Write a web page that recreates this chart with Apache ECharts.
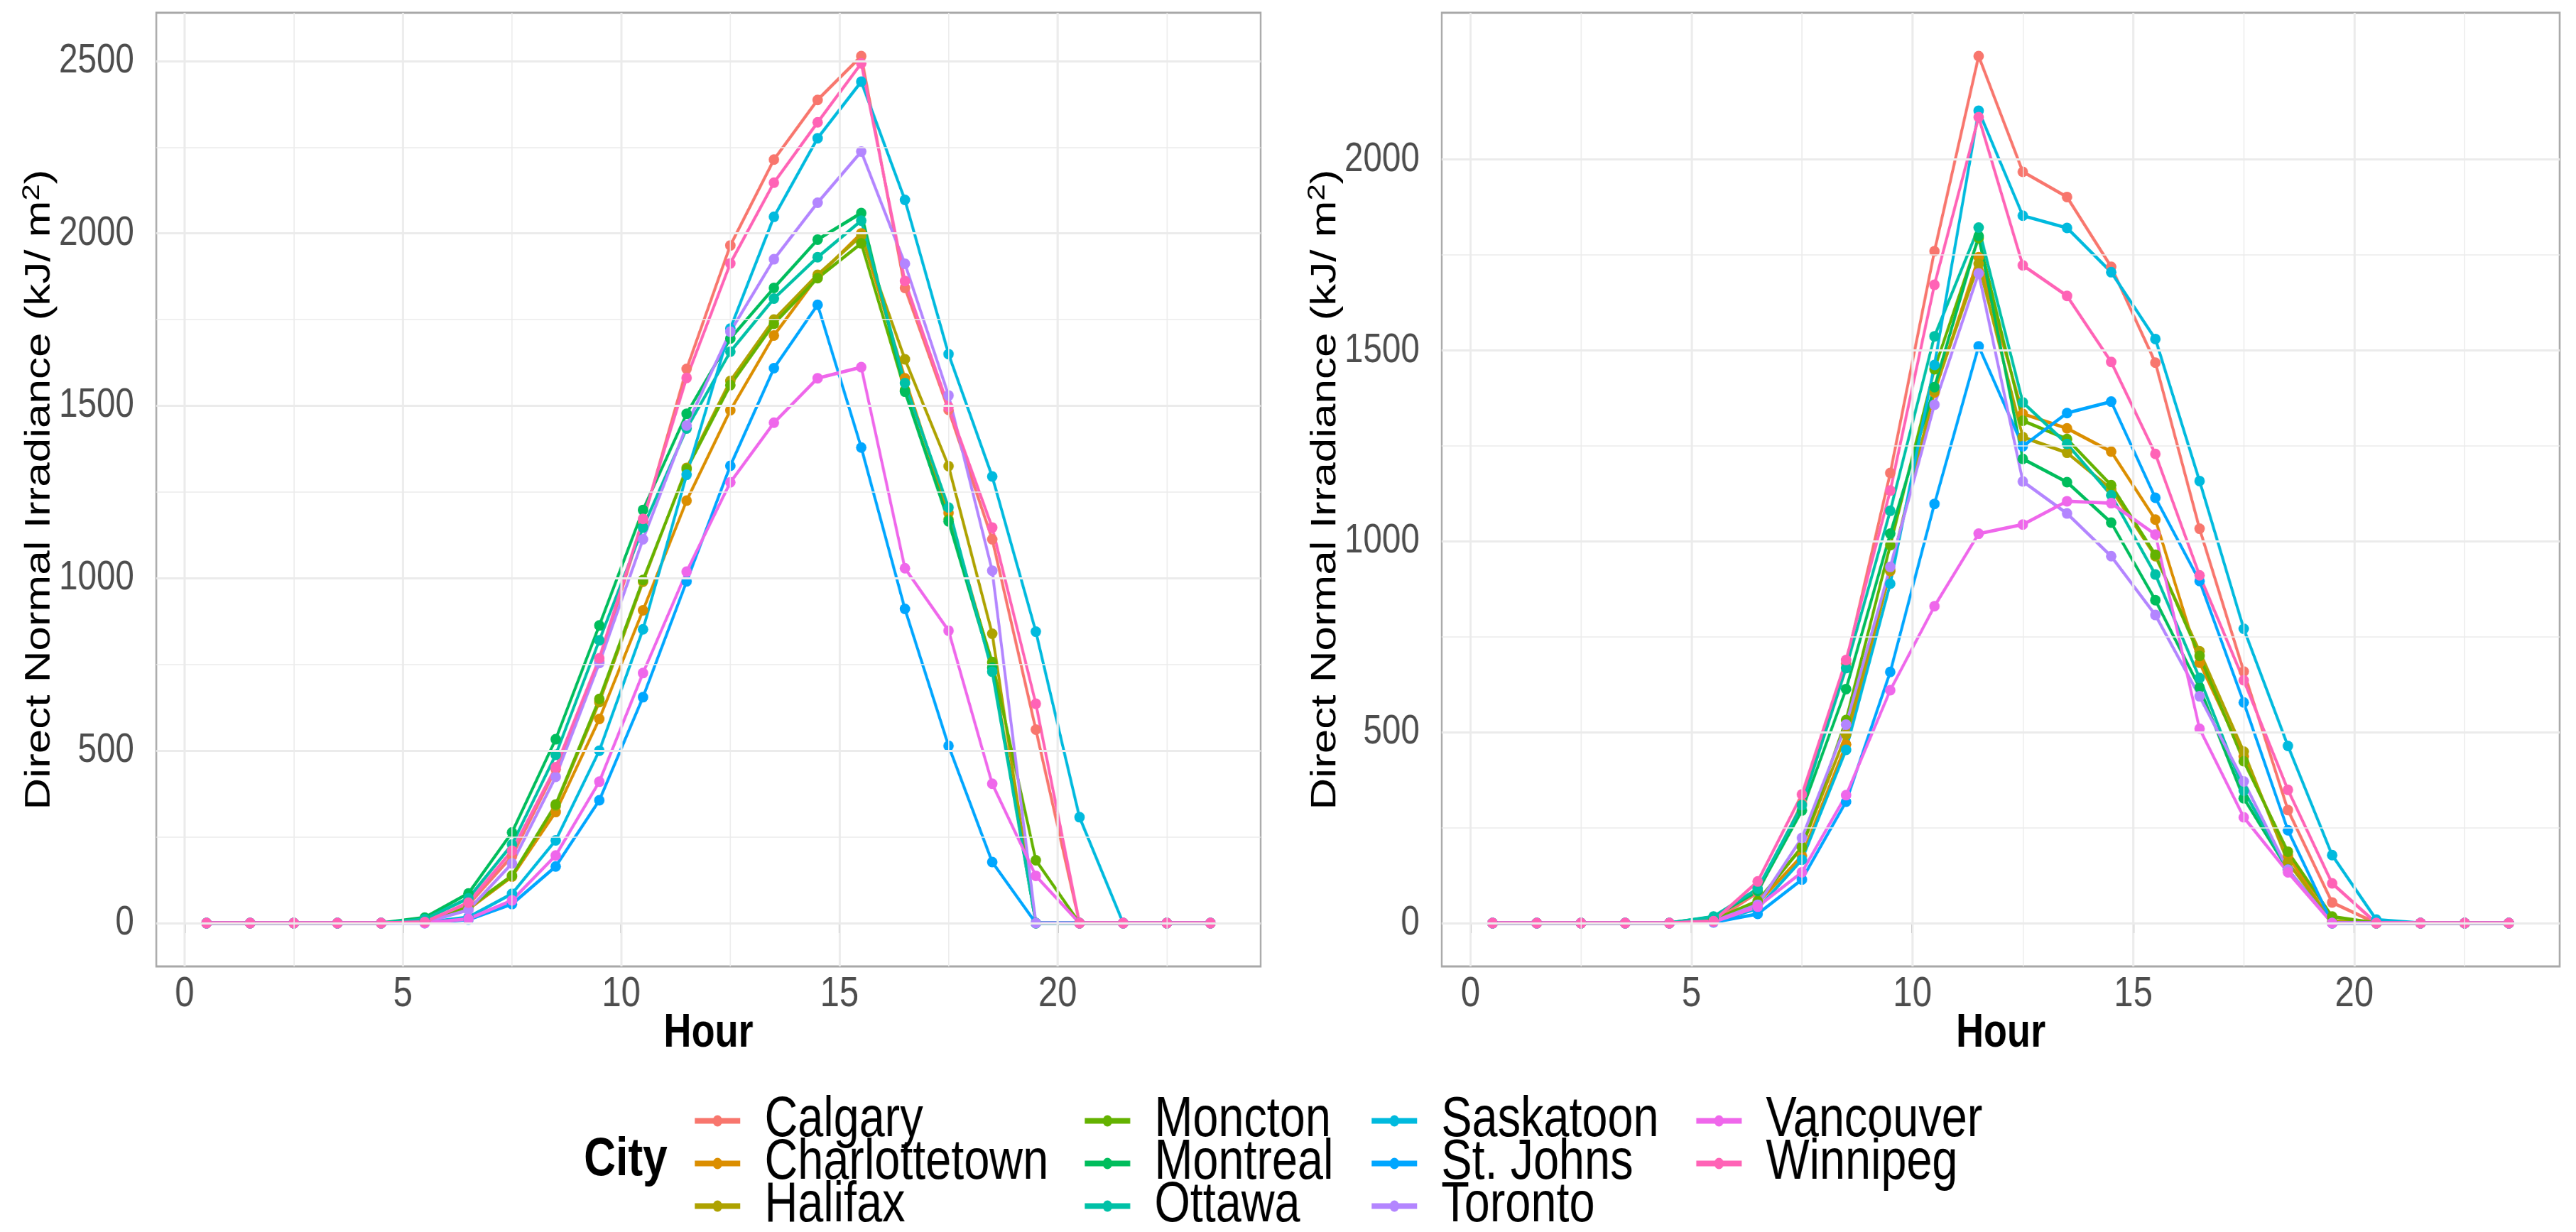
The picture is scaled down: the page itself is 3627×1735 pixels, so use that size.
<!DOCTYPE html>
<html>
<head>
<meta charset="utf-8">
<script src="https://cdn.jsdelivr.net/npm/echarts@6/dist/echarts.min.js"></script>
<style>
html,body{margin:0;padding:0;background:#fff;overflow:hidden;}
#wrap{width:3627px;height:1735px;overflow:hidden;position:relative;}
#chart{height:1735px;transform-origin:0 0;position:absolute;left:0;top:0;}
</style>
</head>
<body>
<div id="wrap"><div id="chart"></div></div>
<script>
const hours = [0.5,1.5,2.5,3.5,4.5,5.5,6.5,7.5,8.5,9.5,10.5,11.5,12.5,13.5,14.5,15.5,16.5,17.5,18.5,19.5,20.5,21.5,22.5,23.5];
const cities = ['Calgary','Charlottetown','Halifax','Moncton','Montreal','Ottawa','Saskatoon','St. Johns','Toronto','Vancouver','Winnipeg'];
const colors = ['#F8766D','#DB8E00','#AEA200','#64B200','#00BD5C','#00C1A7','#00BADE','#00A6FF','#B385FF','#EF67EB','#FF63B6'];
const xTicks = [0,5,10,15,20];
const yTicksLeft = [0,500,1000,1500,2000,2500];
const yTicksRight = [0,500,1000,1500,2000];

// Left panel
const leftCalgary       = [0,0,0,0,0,3,53,194,446,758,1165,1607,1965,2214,2387,2514,1842,1488,1113,561,0,0,0,0];
const leftCharlottetown = [0,0,0,0,0,3,40,135,322,592,907,1225,1487,1704,1875,2000,1580,1189,750,0,0,0,0,0];
const leftHalifax       = [0,0,0,0,0,4,42,136,340,641,990,1320,1572,1750,1880,1993,1635,1325,839,0,0,0,0,0];
const leftMoncton       = [0,0,0,0,0,5,45,138,344,650,995,1316,1560,1738,1870,1971,1545,1170,757,182,0,0,0,0];
const leftMontreal      = [0,0,0,0,0,16,86,263,533,863,1198,1477,1695,1842,1982,2059,1541,1165,740,0,0,0,0,0];
const leftOttawa        = [0,0,0,0,0,11,72,228,488,820,1147,1434,1657,1811,1931,2037,1566,1205,729,0,0,0,0,0];
const leftSaskatoon     = [0,0,0,0,0,1,17,85,240,500,852,1300,1724,2048,2276,2440,2097,1650,1295,845,307,0,0,0];
const leftStJohns       = [0,0,0,0,0,0,10,55,164,356,655,991,1326,1609,1793,1379,911,514,177,0,0,0,0,0];
const leftToronto       = [0,0,0,0,0,2,38,173,424,754,1113,1443,1715,1925,2089,2237,1912,1530,1022,0,0,0,0,0];
const leftVancouver     = [0,0,0,0,0,0,12,66,196,410,725,1019,1278,1451,1580,1612,1029,848,404,137,0,0,0,0];
const leftWinnipeg      = [0,0,0,0,0,3,59,210,452,768,1172,1581,1913,2147,2322,2493,1862,1497,1147,636,0,0,0,0];

// Right panel
const rightCalgary       = [0,0,0,0,0,5,80,314,680,1179,1760,2271,1968,1902,1719,1468,1033,659,296,54,0,0,0,0];
const rightCharlottetown = [0,0,0,0,0,5,52,176,468,922,1390,1744,1334,1296,1235,1057,682,436,177,0,0,0,0,0];
const rightHalifax       = [0,0,0,0,0,6,55,200,494,925,1395,1727,1273,1232,1137,961,712,449,159,5,0,0,0,0];
const rightMoncton       = [0,0,0,0,0,8,58,198,532,990,1451,1795,1316,1268,1147,965,700,424,187,17,0,0,0,0];
const rightMontreal      = [0,0,0,0,0,16,84,295,613,1020,1404,1800,1216,1155,1049,846,617,327,140,0,0,0,0,0];
const rightOttawa        = [0,0,0,0,0,17,90,309,668,1080,1537,1822,1364,1255,1121,913,642,347,140,0,0,0,0,0];
const rightSaskatoon     = [0,0,0,0,0,3,38,166,454,889,1462,2128,1853,1821,1705,1530,1158,771,464,178,9,0,0,0];
const rightStJohns       = [0,0,0,0,0,2,24,114,318,658,1098,1511,1249,1336,1366,1114,896,578,243,0,0,0,0,0];
const rightToronto       = [0,0,0,0,0,4,48,223,520,933,1358,1702,1157,1073,961,807,594,371,140,0,0,0,0,0];
const rightVancouver     = [0,0,0,0,0,3,43,133,335,610,830,1020,1044,1105,1100,1018,509,277,133,0,0,0,0,0];
const rightWinnipeg      = [0,0,0,0,0,5,109,337,689,1133,1672,2111,1723,1643,1470,1229,911,636,349,104,0,0,0,0];

const leftSets  = [leftCalgary,leftCharlottetown,leftHalifax,leftMoncton,leftMontreal,leftOttawa,leftSaskatoon,leftStJohns,leftToronto,leftVancouver,leftWinnipeg];
const rightSets = [rightCalgary,rightCharlottetown,rightHalifax,rightMoncton,rightMontreal,rightOttawa,rightSaskatoon,rightStJohns,rightToronto,rightVancouver,rightWinnipeg];

// horizontal condensing of the whole drawing (reference text is horizontally condensed)
const K = 0.82;
const W = Math.ceil(3627 / K);
const X = v => v / K;
const el = document.getElementById('chart');
el.style.width = W + 'px';
el.style.transform = 'scaleX(' + K + ')';

function expandRange(vals){ // ggplot default 5% expansion
  const lo = Math.min(...vals), hi = Math.max(...vals), d = (hi-lo)*0.05;
  return [lo-d, hi+d];
}
const xr = expandRange(hours);
const ylr = expandRange(leftSets.flat());
const yrr = expandRange(rightSets.flat());

const font = 'Liberation Sans, Arial, sans-serif';
const gridCol = '#EBEBEB';

function mids(t){ const r=[]; for(let i=0;i<t.length-1;i++) r.push((t[i]+t[i+1])/2); return r; }
function minorX(){ const m = mids(xTicks); m.push(xTicks[xTicks.length-1]+2.5); return m.filter(v=>v>xr[0]&&v<xr[1]); }

function xAxisCfg(gi){
  return {
    type:'value', gridIndex:gi, min:xr[0], max:xr[1],
    name:'Hour', nameLocation:'middle', nameGap:62, nameMoveOverlap:false,
    nameTextStyle:{fontFamily:font, fontWeight:'bold', fontSize:66, color:'#000'},
    axisLine:{show:false},
    axisTick:{show:true, length:14, lineStyle:{color:'#333', width:3}, customValues:xTicks},
    axisLabel:{show:true, margin:9, fontFamily:font, fontSize:60, color:'#4D4D4D', customValues:xTicks,
      formatter:v=>String(v)},
    splitLine:{show:false}
  };
}
function yAxisCfg(gi, yr, ticks){
  return {
    type:'value', gridIndex:gi, min:yr[0], max:yr[1],
    name:'Direct Normal Irradiance (kJ/ m{sup|2})', nameLocation:'middle', nameGap:166, nameRotate:90,
    nameMoveOverlap:false,
    nameTextStyle:{fontFamily:font, fontSize:62, color:'#000',
      rich:{sup:{fontFamily:font, fontSize:42, color:'#000', verticalAlign:'top', padding:[0,0,26,0]}}},
    axisLine:{show:false},
    axisTick:{show:true, length:17, lineStyle:{color:'#333', width:3}, customValues:ticks},
    axisLabel:{show:true, margin:38, fontFamily:font, fontSize:58, color:'#4D4D4D', customValues:ticks,
      formatter:v=>String(v)},
    splitLine:{show:false}
  };
}

function gridSeries(gi, yTicks, yr){
  const minY = mids(yTicks).filter(v=>v>yr[0]&&v<yr[1]);
  const minX = minorX();
  const d = [];
  minY.forEach(v=>d.push({yAxis:v, lineStyle:{color:gridCol, width:1.5, type:'solid'}}));
  minX.forEach(v=>d.push({xAxis:v, lineStyle:{color:gridCol, width:1.8, type:'solid'}}));
  yTicks.forEach(v=>d.push({yAxis:v, lineStyle:{color:gridCol, width:3, type:'solid'}}));
  xTicks.forEach(v=>d.push({xAxis:v, lineStyle:{color:gridCol, width:3.6, type:'solid'}}));
  return {
    type:'line', name:'_grid'+gi, xAxisIndex:gi, yAxisIndex:gi, data:[], z:1, silent:true,
    markLine:{silent:true, symbol:['none','none'], label:{show:false}, animation:false, data:d}
  };
}

const series = [gridSeries(0, yTicksLeft, ylr), gridSeries(1, yTicksRight, yrr)];
[leftSets, rightSets].forEach((sets, gi)=>{
  sets.forEach((vals, i)=>{
    series.push({
      type:'line', name:cities[i], xAxisIndex:gi, yAxisIndex:gi, z:3,
      data: hours.map((h,k)=>[h, vals[k]]),
      symbol:'circle', symbolSize:[18,15], showSymbol:true,
      lineStyle:{color:colors[i], width:4.8},
      itemStyle:{color:colors[i]},
      emphasis:{disabled:true}, animation:false
    });
  });
});

// legend layout: 4 columns, 3 rows (column-major like ggplot)
const legCols = [975, 1524, 1928, 2385];
const legRows = [1569, 1629, 1689];
const legends = cities.map((c,i)=>{
  const col = Math.floor(i/3), row = i%3;
  return {
    data:[c], orient:'vertical', left:X(legCols[col]), top:legRows[row]-30, padding:0,
    itemWidth:X(64), itemHeight:20, selectedMode:false,
    lineStyle:{width:8},
    textStyle:{fontFamily:font, fontSize:79, color:'#000', lineHeight:60, padding:[0,0,0,X(30)]}
  };
});

const option = {
  backgroundColor:'#fff',
  animation:false,
  color:colors,
  title:{text:'City', left:X(822), top:1596, padding:0,
    textStyle:{fontFamily:font, fontWeight:'bold', fontSize:76, color:'#000', lineHeight:76}},
  legend:legends,
  grid:[
    {left:X(220), top:18, width:X(1555), height:1343, show:true, borderColor:'#A8A8A8', borderWidth:3, backgroundColor:'#fff'},
    {left:X(2030), top:18, width:X(1574), height:1343, show:true, borderColor:'#A8A8A8', borderWidth:3, backgroundColor:'#fff'}
  ],
  xAxis:[xAxisCfg(0), xAxisCfg(1)],
  yAxis:[yAxisCfg(0, ylr, yTicksLeft), yAxisCfg(1, yrr, yTicksRight)],
  series:series
};

const chart = echarts.init(el, null, {renderer:'canvas', width:W, height:1735});
chart.setOption(option);
</script>
</body>
</html>
